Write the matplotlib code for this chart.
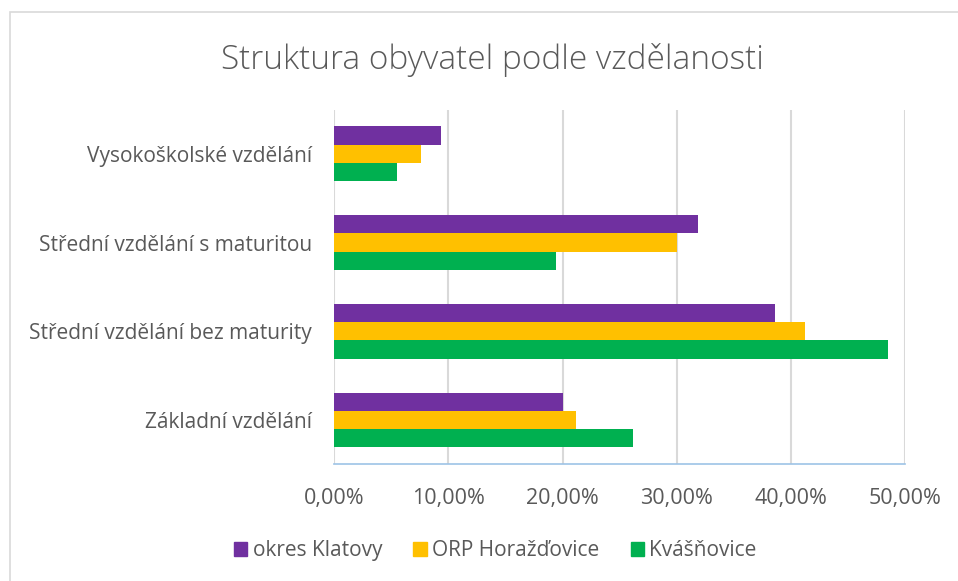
import numpy as np
import matplotlib
matplotlib.use("Agg")
import matplotlib.pyplot as plt
from matplotlib.patches import Rectangle, Patch
from matplotlib.ticker import FuncFormatter

plt.rcParams['font.family'] = ['Open Sans', 'DejaVu Sans']

# data (shares of population, %)
kategorie = ["Základní vzdělání", "Střední vzdělání bez maturity",
             "Střední vzdělání s maturitou", "Vysokoškolské vzdělání"]
serie = ["okres Klatovy", "ORP Horažďovice", "Kvášňovice"]
klatovy = [20.05, 38.6, 31.9, 9.35]
horazdovice = [21.2, 41.2, 30.0, 7.55]
kvasnovice = [26.2, 48.5, 19.4, 5.5]
barvy = ["#7030A0", "#FFC000", "#00B050"]

fig = plt.figure(figsize=(9.58, 5.81), dpi=100)
ax = fig.add_axes([0.349, 0.2009, 0.5958, 0.6106])

y = np.arange(len(kategorie))
h = 0.206
for vals, off, c, lab in zip([klatovy, horazdovice, kvasnovice], [h, 0, -h], barvy, serie):
    ax.barh(y + off, np.array(vals) / 100, height=h, color=c, label=lab, zorder=3)

ax.set_xlim(0, 0.5)
ax.set_ylim(-0.5, 3.5)
ax.set_xticks(np.arange(0, 0.51, 0.1))
ax.xaxis.set_major_formatter(FuncFormatter(lambda v, p: f"{v*100:.2f}%".replace(".", ",")))
ax.set_yticks(y)
ax.set_yticklabels(kategorie)
ax.grid(axis='x', color='#D9D9D9', linewidth=1.5, zorder=0)
for s in ['top', 'right', 'left']:
    ax.spines[s].set_visible(False)
ax.spines['bottom'].set_color('#9DC3E6')
ax.spines['bottom'].set_linewidth(1.2)
ax.spines['bottom'].set_zorder(4)
ax.tick_params(axis='both', length=0, colors='#595959')
ax.tick_params(axis='y', pad=16, labelsize=15)
ax.tick_params(axis='x', pad=17, labelsize=15.5)

fig.text(0.514, 0.896, "Struktura obyvatel podle vzdělanosti", ha='center', va='center',
         fontsize=24, color='#595959', fontweight='light')

handles = [Patch(color=c, label=l) for c, l in zip(barvy, serie)]
fig.legend(handles=handles, loc='center', bbox_to_anchor=(0.517, 0.052), ncol=3,
           frameon=False, fontsize=15, labelcolor='#595959', handlelength=0.65,
           handleheight=0.65, handletextpad=0.25, columnspacing=1.5)

fig.patches.append(Rectangle((10 / 958, -0.1), 1.1, 1.1 - 12 / 581, transform=fig.transFigure,
                             fill=False, edgecolor='#D9D9D9', linewidth=1.2))

fig.savefig("out.png", dpi=100)
